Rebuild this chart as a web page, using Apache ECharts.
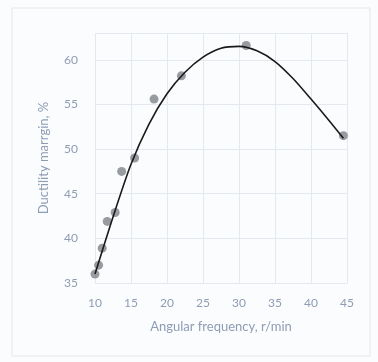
<!DOCTYPE html>
<html><head><meta charset="utf-8">
<script src="https://cdn.jsdelivr.net/npm/echarts@6/dist/echarts.min.js"></script>
<style>html,body{margin:0;padding:0;background:#fbfcfd}#c{width:378px;height:362px}</style>
</head><body><div id="c"></div>
<script>
const pointX = [10, 10.5, 11, 11.7, 12.8, 13.7, 15.5, 18.2, 22, 31, 44.5];
const pointY = [36, 37, 38.9, 41.9, 42.9, 47.5, 49, 55.6, 58.2, 61.6, 51.5];
const trendX = [10, 12.5, 15, 17.5, 20, 22.5, 25, 27.5, 30, 32.5, 35, 37.5, 40, 42.5, 44.5];
const trendY = [36, 42.4, 48.3, 52.8, 56.2, 58.6, 60.3, 61.3, 61.5, 61.0, 59.8, 57.9, 55.6, 53.2, 51.2];
const xTicks = [10, 15, 20, 25, 30, 35, 40, 45];
const yTicks = [35, 40, 45, 50, 55, 60];

const chart = echarts.init(document.getElementById('c'));
const labelColor = '#8e9cb4';
chart.setOption({
  backgroundColor: '#fbfcfd',
  animation: false,
  graphic: [{type: 'rect', shape: {x: 12, y: 8, width: 358, height: 348}, style: {fill: 'none', stroke: '#e3e7ec', lineWidth: 1}, silent: true}],
  grid: {left: 95, right: 31, top: 33, bottom: 79},
  xAxis: {
    type: 'value', min: xTicks[0], max: xTicks[xTicks.length - 1], interval: 5,
    name: 'Angular frequency, r/min', nameLocation: 'middle', nameGap: 37,
    nameTextStyle: {color: labelColor, fontSize: 13, fontFamily: 'Lato'},
    axisLine: {show: false}, axisTick: {show: false},
    axisLabel: {color: labelColor, fontSize: 12, fontFamily: 'Lato', margin: 14},
    splitLine: {show: true, lineStyle: {color: '#e4e9f0', width: 1}}
  },
  yAxis: {
    type: 'value', min: yTicks[0], max: 63, interval: 5,
    name: 'Ductility marrgin, %', nameLocation: 'middle', nameGap: 45,
    nameTextStyle: {color: labelColor, fontSize: 13, fontFamily: 'Lato'},
    axisLine: {show: false}, axisTick: {show: false},
    axisLabel: {color: labelColor, fontSize: 12, fontFamily: 'Lato', margin: 17, showMaxLabel: false},
    splitLine: {show: true, lineStyle: {color: '#e4e9f0', width: 1}}
  },
  series: [
    {type: 'scatter', data: pointX.map((x, i) => [x, pointY[i]]), symbolSize: 9,
     itemStyle: {color: '#7f8288'}, z: 2},
    {type: 'line', data: trendX.map((x, i) => [x, trendY[i]]), smooth: 0.25, showSymbol: false,
     lineStyle: {color: '#1a1a1a', width: 1.6}, z: 3}
  ]
});
</script></body></html>
